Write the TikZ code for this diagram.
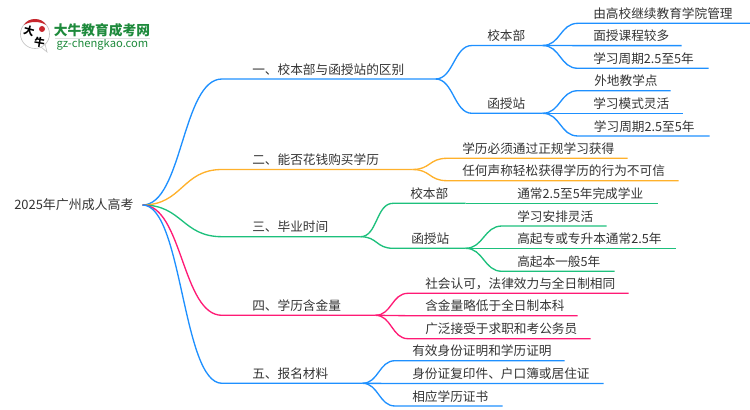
\documentclass[tikz,border=0pt]{standalone}
\usepackage{fontspec}
\setmainfont{Noto Sans CJK SC}
\usepackage{tikz}
\definecolor{inkgray}{HTML}{333333}
\definecolor{bluebr}{HTML}{1E90FF}
\definecolor{orangebr}{HTML}{FFB12B}
\definecolor{greenbr}{HTML}{1DC07C}
\definecolor{pinkbr}{HTML}{FF1A75}
\definecolor{logogreen}{HTML}{1E8A3C}
\definecolor{logored}{HTML}{C8262C}
\tikzset{
	twig/.style 2 args={anchor=south west, inner xsep=0pt, inner ysep=1.2pt, align=left,
		text depth=2.2pt, text height=7.6pt, text width=(#1)*0.75pt, execute at begin node={\hspace*{#2pt}}},
	stem/.style={line width=1pt}
}
\begin{document}
\begin{tikzpicture}[x=0.75pt,y=-0.75pt,font=\fontsize{9.5pt}{11pt}\selectfont,text=inkgray]
	\useasboundingbox (0,0) rectangle (750,410);
	% logo
	\draw [gray!45,fill=white,line width=.5] (35,34) circle (14.5);
	\draw [gray!45,line width=.5] (41,47) -- (47,52) -- (45,44);
	\fill [logored] (24,25) .. controls (28,17) and (42,17) .. (46,25) .. controls (40,21) and (30,21) .. (24,25);
	\fill [logored] (42,29) circle (3);
	\node (logoda) at (29,31) [rotate=-15,text=black,inner sep=0pt,font=\fontsize{8pt}{9pt}\bfseries\selectfont] {大};
	\node (logoniu) at (39.5,42) [rotate=-10,text=black,inner sep=0pt,font=\fontsize{8pt}{9pt}\bfseries\selectfont] {牛};
	\node (logotitle) at (102,30) [text=logogreen,font=\fontsize{10.3pt}{12pt}\bfseries\selectfont] {大牛教育成考网};
	\node (logourl) at (102.5,44.5) [text=logogreen,font=\fontsize{8.4pt}{10pt}\selectfont] {gz-chengkao.com};
	\draw [gray!25,line width=.5] (55,38.3) -- (150,38.3);
	% centre
	\node (root) at (14,205) [anchor=west,inner sep=0pt,text width=96pt,font=\fontsize{9.7pt}{11pt}\selectfont] {2025年广州成人高考};
	% branches: name/parent/left/y/right/indent/colour/control/text
	\foreach \name/\from/\xs/\ypos/\xe/\ind/\col/\dx/\txt in {
		one/root.east/222/79/435/22.5/bluebr/40/{一、校本部与函授站的区别},
		two/root.east/222/169.5/412/22.5/orangebr/40/{二、能否花钱购买学历},
		three/root.east/222/236.7/360/22.5/greenbr/40/{三、毕业时间},
		four/root.east/222/315.3/375/22.5/pinkbr/40/{四、学历含金量},
		five/root.east/222/383.3/362/22.5/bluebr/40/{五、报名材料},
		main/one.south east/472/45.5/542/11.25/bluebr/18/{校本部},
		station/one.south east/472/113.3/542/11.25/bluebr/18/{函授站},
		mainA/main.south east/578/23.3/750/11.25/bluebr/18/{由高校继续教育学院管理},
		mainB/main.south east/578/45.6/681/11.25/bluebr/18/{面授课程较多},
		mainC/main.south east/578/68.3/708/11.25/bluebr/18/{学习周期2.5至5年},
		stationA/station.south east/578/90.7/670/12/bluebr/18/{外地教学点},
		stationB/station.south east/578/113.3/682/11.25/bluebr/18/{学习模式灵活},
		stationC/station.south east/578/136/709/11.75/bluebr/18/{学习周期2.5至5年},
		degreeA/two.south east/447/158.3/627/11.25/orangebr/18/{学历必须通过正规学习获得},
		degreeB/two.south east/447/180.7/678/11.25/orangebr/18/{任何声称轻松获得学历的行为不可信},
		timeA/three.south east/393/203.3/465/12.75/greenbr/17/{校本部},
		timeB/three.south east/393/248.3/465/13.5/greenbr/17/{函授站},
		timeAa/timeA.south east/502/203.3/657/11.25/greenbr/18/{通常2.5至5年完成学业},
		timeBa/timeB.south east/502/226/606/11.25/greenbr/18/{学习安排灵活},
		timeBb/timeB.south east/502/248.3/675/11.25/greenbr/18/{高起专或专升本通常2.5年},
		timeBc/timeB.south east/502/271.3/614/11.25/greenbr/18/{高起本一般5年},
		valueA/four.south east/408/293.3/628/12.75/pinkbr/16/{社会认可，法律效力与全日制相同},
		valueB/four.south east/408/315.7/577/12.75/pinkbr/16/{含金量略低于全日制本科},
		valueC/four.south east/408/338.7/590/12.75/pinkbr/16/{广泛接受于求职和考公务员},
		paperA/five.south east/395/360.7/564/12.75/bluebr/16/{有效身份证明和学历证明},
		paperB/five.south east/395/383.5/603/12.75/bluebr/16/{身份证复印件、户口簿或居住证},
		paperC/five.south east/395/406/502/12.75/bluebr/16/{相应学历证书}
	} {
		\node (\name) at (\xs,\ypos) [twig={\xe-\xs}{\ind}] {\txt};
		\draw [stem,color=\col] (\from) .. controls +(\dx,0) and +(-\dx,0) .. (\name.south west) -- (\name.south east);
	}
\end{tikzpicture}
\end{document}
